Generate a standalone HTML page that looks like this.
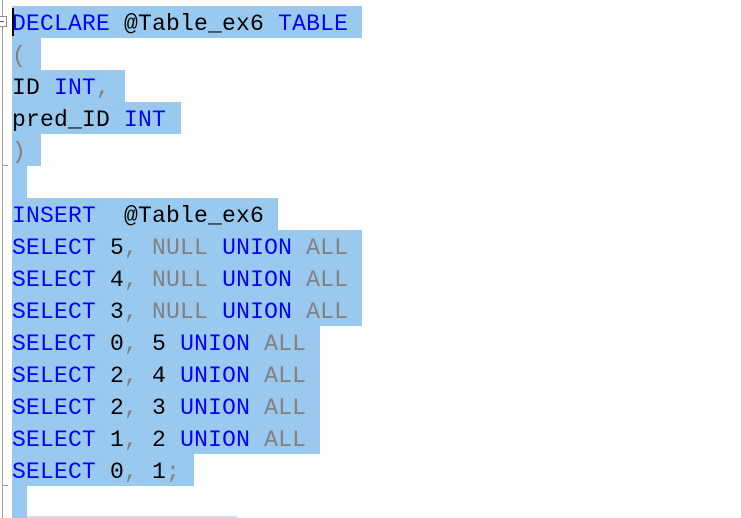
<!DOCTYPE html>
<html><head><style>
body{margin:0;width:741px;height:518px;background:#fff;overflow:hidden;position:relative;font-family:"Liberation Mono",monospace;}
.l{position:absolute;left:12px;height:30px;padding-top:2px;line-height:32px;font-size:23px;letter-spacing:0.2px;white-space:pre;background:#99c9ef;color:#000;}
.k{color:#0000ff}.g{color:#808080}
</style></head><body>
<div style="position:absolute;left:2px;top:0;width:1px;height:518px;background:#a0a0a0"></div>
<div style="position:absolute;left:-4px;top:16px;width:9px;height:9px;border:1px solid #909090;background:#fff"></div>
<div style="position:absolute;left:-2px;top:21px;width:6px;height:1px;background:#606060"></div>
<div style="position:absolute;left:2px;top:165px;width:6px;height:1px;background:#a0a0a0"></div>
<div style="position:absolute;left:2px;top:485px;width:6px;height:1px;background:#a0a0a0"></div>
<div class="l" style="top:6px;width:350px"><span class="k">DECLARE</span> @Table_ex6 <span class="k">TABLE</span></div>
<div class="l" style="top:38px;width:29px"><span class="g">(</span></div>
<div class="l" style="top:70px;width:113px">ID <span class="k">INT</span><span class="g">,</span></div>
<div class="l" style="top:102px;width:169px">pred_ID <span class="k">INT</span></div>
<div class="l" style="top:134px;width:29px"><span class="g">)</span></div>
<div class="l" style="top:166px;width:15px"></div>
<div class="l" style="top:198px;width:266px"><span class="k">INSERT</span>  @Table_ex6</div>
<div class="l" style="top:230px;width:350px"><span class="k">SELECT</span> 5<span class="g">, NULL</span> <span class="k">UNION</span> <span class="g">ALL</span></div>
<div class="l" style="top:262px;width:350px"><span class="k">SELECT</span> 4<span class="g">, NULL</span> <span class="k">UNION</span> <span class="g">ALL</span></div>
<div class="l" style="top:294px;width:350px"><span class="k">SELECT</span> 3<span class="g">, NULL</span> <span class="k">UNION</span> <span class="g">ALL</span></div>
<div class="l" style="top:326px;width:308px"><span class="k">SELECT</span> 0<span class="g">,</span> 5 <span class="k">UNION</span> <span class="g">ALL</span></div>
<div class="l" style="top:358px;width:308px"><span class="k">SELECT</span> 2<span class="g">,</span> 4 <span class="k">UNION</span> <span class="g">ALL</span></div>
<div class="l" style="top:390px;width:308px"><span class="k">SELECT</span> 2<span class="g">,</span> 3 <span class="k">UNION</span> <span class="g">ALL</span></div>
<div class="l" style="top:422px;width:308px"><span class="k">SELECT</span> 1<span class="g">,</span> 2 <span class="k">UNION</span> <span class="g">ALL</span></div>
<div class="l" style="top:454px;width:182px"><span class="k">SELECT</span> 0<span class="g">,</span> 1<span class="g">;</span></div>
<div class="l" style="top:486px;width:15px"></div>
<div style="position:absolute;left:27px;top:516px;width:210px;height:2px;background:#c8e0f4"></div>
<div style="position:absolute;left:12px;top:8px;width:2px;height:28px;background:#000"></div>
</body></html>
